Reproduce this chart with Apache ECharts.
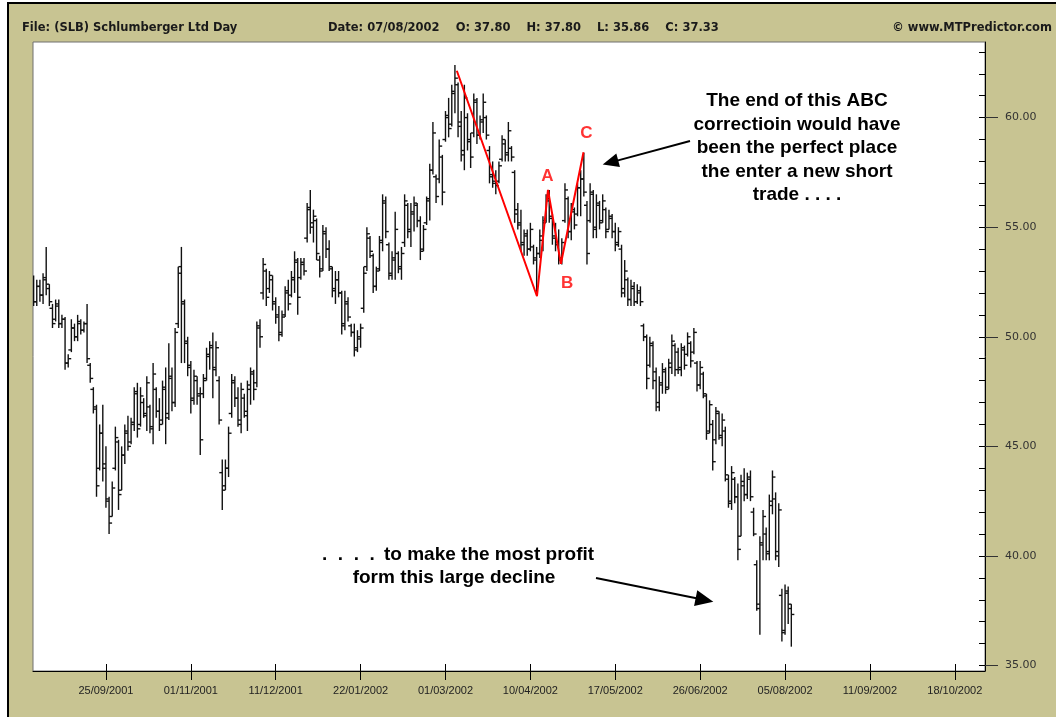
<!DOCTYPE html>
<html><head><meta charset="utf-8">
<script src="https://cdn.jsdelivr.net/npm/echarts@6/dist/echarts.min.js"></script>
<style>html,body{margin:0;padding:0;background:#fff}#c{width:1056px;height:717px}</style>
</head><body><div id="c"></div>
<script>
// Daily OHLC bars, SLB, one per trading day (bar index 0 = first bar shown)
const openP = [
52.5,51.6,52.3,51.9,52.6,52.2,51.3,50.8,51.4,50.6, 50.8,48.8,49.4,50.4,50.0,50.6,50.3,50.6,48.7,47.6,
46.7,44.0,45.6,44.2,42.5,41.8,44.0,45.2,43.0,44.6, 45.6,45.2,46.0,47.5,46.0,47.0,46.4,46.8,45.8,47.6,
46.6,46.2,47.6,46.5,48.2,47.0,50.6,53.2,51.5,49.7, 48.7,47.2,48.0,47.4,47.4,48.1,49.1,49.6,48.5,48.0,
43.8,43.2,44.0,46.5,47.9,47.2,46.0,47.2,46.4,47.6, 48.3,47.9,50.4,52.0,53.0,52.2,52.6,51.6,51.0,50.2,
51.0,52.1,51.9,52.6,53.4,52.7,53.3,54.5,55.9,55.2, 55.3,53.5,53.1,54.7,54.0,53.1,52.2,52.6,52.0,50.6,
51.5,50.5,50.2,49.5,49.9,51.3,53.2,54.5,53.7,52.3, 53.1,54.3,56.1,54.2,52.8,53.5,53.8,53.1,54.3,56.0,
54.8,55.6,56.0,55.3,54.0,55.2,56.3,57.6,57.3,57.2, 58.2,59.0,60.0,59.7,61.1,61.5,59.8,58.3,60.0,59.0,
59.3,60.7,59.2,59.8,60.0,58.5,57.4,57.1,57.1,58.1, 58.8,58.4,58.6,57.5,55.8,55.2,54.2,54.7,54.0,54.1,
53.6,53.8,54.4,55.3,56.3,55.4,54.6,54.2,53.5,55.3, 56.3,54.8,55.7,55.6,56.8,57.2,56.0,55.3,56.5,55.0,
56.0,55.3,55.8,54.9,55.4,54.8,54.3,54.0,52.2,52.6, 51.7,52.3,51.6,52.0,50.5,50.0,48.7,49.6,48.4,46.8,
47.8,48.4,47.7,48.6,49.6,49.3,48.5,49.4,49.2,49.7, 49.3,48.8,47.8,48.3,47.3,45.7,46.0,45.3,46.5,45.4,
45.7,43.5,42.4,43.5,42.7,40.9,43.2,42.8,43.6,42.0, 39.6,37.6,40.5,41.0,40.2,42.3,42.6,40.0,38.2,36.6,
38.4,37.80];
const highP = [
52.8,52.6,52.6,52.9,54.1,52.4,51.5,51.7,51.7,51.0, 50.9,49.2,50.8,50.6,51.0,50.8,50.7,51.5,48.8,47.7,
46.9,46.0,46.9,45.0,42.7,43.4,45.9,45.3,45.0,46.0, 46.4,46.3,47.7,47.9,47.7,47.2,48.2,46.9,48.8,47.7,
47.2,48.0,48.6,49.7,48.6,50.4,53.2,54.1,51.7,50.0, 48.9,48.5,48.2,47.7,48.3,49.5,49.8,50.2,49.8,48.2,
44.4,44.4,45.9,48.3,48.2,47.7,47.9,47.4,48.0,48.6, 48.5,50.7,50.8,53.6,53.1,53.0,52.8,51.8,51.4,51.2,
52.3,52.6,53.0,53.9,53.6,53.6,53.6,56.1,56.7,55.8, 55.4,53.7,55.1,55.0,54.4,53.2,53.0,53.0,52.1,52.1,
51.8,50.6,50.6,50.3,50.6,53.2,55.0,54.6,53.8,53.2, 54.6,56.5,56.4,54.3,53.9,55.7,53.9,54.1,56.5,56.1,
56.1,56.4,56.1,55.5,55.1,56.4,57.9,59.8,57.4,59.0, 58.3,60.3,60.9,61.5,62.4,61.6,60.3,61.5,60.2,59.3,
61.1,60.9,60.1,61.1,60.1,58.7,58.0,57.6,58.0,59.2, 59.0,59.8,58.7,57.6,56.1,55.8,54.9,54.9,55.2,54.2,
54.1,54.9,55.5,56.5,56.7,55.6,55.2,54.9,54.5,57.0, 56.4,56.1,55.9,57.0,57.6,58.4,56.2,57.0,56.7,56.5,
56.2,56.5,55.9,55.8,55.6,55.2,55.0,54.2,53.5,52.7, 52.6,52.5,52.4,52.3,50.6,50.1,50.0,49.8,48.6,48.2,
48.8,48.6,49.0,50.1,49.7,49.5,49.7,49.6,50.2,49.8, 50.4,48.9,48.9,48.4,47.4,47.1,46.2,46.8,46.6,46.5,
45.9,43.7,44.1,43.6,43.3,43.7,44.0,43.8,43.9,42.2, 39.8,40.9,42.1,41.3,42.8,43.9,42.9,42.4,38.5,38.7,
38.6,37.80];
const lowP = [
51.4,51.4,51.6,51.5,51.9,51.4,50.4,50.7,50.4,50.4, 48.5,48.6,49.3,49.8,49.8,50.1,50.2,48.8,47.9,46.5,
42.7,43.9,43.4,42.2,41.0,41.8,43.9,42.1,43.0,44.2, 44.8,45.1,45.7,45.4,45.9,46.3,45.7,45.6,45.1,46.3,
45.7,46.0,45.1,46.2,46.6,46.8,50.4,48.8,48.8,48.2, 46.5,46.9,46.9,44.6,47.2,48.0,48.5,47.2,48.2,46.0,
42.1,43.0,43.6,46.3,46.8,45.9,45.6,46.3,45.7,46.9, 47.1,47.7,49.5,51.7,51.4,52.0,51.2,50.6,49.8,50.0,
50.9,51.2,51.8,52.0,51.0,52.6,52.8,54.3,54.7,54.3, 53.5,52.7,53.0,53.6,53.0,51.8,51.5,51.8,50.1,50.3,
50.7,50.0,49.1,49.3,49.5,51.1,53.0,53.6,52.0,52.1, 53.0,53.9,54.5,52.6,52.6,52.6,52.9,52.6,54.1,54.5,
54.1,54.8,55.0,53.5,53.9,55.1,55.3,57.4,56.1,57.0, 56.0,58.9,59.1,59.6,60.2,59.1,58.0,57.6,58.5,57.7,
59.1,58.8,59.0,59.3,59.0,57.0,56.8,56.5,57.0,58.0, 58.0,58.0,58.0,55.2,54.9,53.9,53.7,53.7,53.9,53.3,
51.9,53.6,53.9,55.2,55.2,54.2,53.9,53.3,53.3,55.2, 54.5,54.4,54.9,55.5,55.5,56.4,53.3,55.2,54.5,54.5,
54.9,55.2,54.5,54.9,54.5,53.9,54.1,51.8,51.8,51.4, 51.4,51.4,51.5,51.4,49.8,47.6,48.6,47.6,46.6,46.6,
47.4,47.4,47.6,48.3,48.2,48.3,48.2,48.5,49.1,48.6, 49.2,47.5,47.6,47.2,45.3,45.6,43.9,45.1,45.3,45.0,
43.4,42.2,42.1,42.4,39.8,40.9,42.5,42.6,42.5,40.9, 37.5,36.4,39.8,39.8,39.8,41.9,39.8,39.5,36.1,36.4,
36.9,35.86];
const closeP = [
51.6,52.3,51.9,52.7,52.4,51.6,50.6,51.5,50.6,50.8, 48.8,49.0,50.4,50.0,50.7,50.3,50.6,49.0,48.1,46.8,
43.2,45.6,44.0,42.6,41.5,43.1,45.4,42.8,44.6,45.7, 45.0,46.1,47.4,45.8,47.3,46.5,47.9,45.9,48.3,46.6,
46.0,47.7,46.3,48.1,47.0,50.2,52.9,51.6,49.8,48.6, 47.1,48.2,47.3,45.3,48.0,49.2,49.5,48.6,49.5,46.2,
43.0,44.0,45.6,48.0,47.2,46.2,47.6,46.6,47.8,48.4, 47.6,50.5,50.0,53.3,51.8,52.8,51.5,50.9,50.1,50.9,
52.0,51.5,52.7,53.5,51.8,53.4,53.0,55.8,55.0,55.5, 53.8,53.0,54.8,54.0,53.2,52.1,52.6,52.0,50.5,51.6,
50.9,50.2,49.4,50.0,50.4,52.9,54.7,53.9,52.3,53.0, 54.4,56.2,54.8,52.9,53.6,54.9,53.2,53.8,56.2,54.9,
55.7,56.1,55.3,53.9,54.9,56.2,57.6,59.3,56.4,58.7, 56.6,60.1,59.5,61.2,61.8,59.6,58.5,60.9,58.9,58.2,
60.8,59.2,59.9,60.7,59.2,57.3,57.0,56.9,57.8,59.0, 58.3,59.4,58.2,55.6,55.1,54.3,54.6,54.0,54.9,53.5,
53.8,54.6,55.2,56.2,55.5,54.5,54.3,53.6,54.3,56.7, 54.8,55.8,55.1,56.8,57.2,56.6,53.8,56.6,54.9,56.1,
55.2,56.2,54.8,55.5,54.8,54.2,54.8,52.0,53.0,51.7, 52.2,51.6,52.1,51.6,50.0,48.1,49.7,48.0,47.0,47.9,
48.5,47.6,48.8,49.8,48.5,48.6,49.5,48.7,50.0,48.9, 50.2,47.8,48.6,47.4,45.6,46.9,44.3,46.6,45.5,46.2,
43.7,42.5,43.8,42.7,40.3,43.4,42.8,43.5,42.7,41.0, 37.8,40.6,41.8,40.1,42.5,43.6,40.2,42.1,36.5,38.3,
37.6,37.33];

// x-axis date ticks (bar index of each labelled date) and their labels
const tickIdx = [23,50,77,104,131,158,185,212,239,266,293];
const tickLabels = ['25/09/2001','01/11/2001','11/12/2001','22/01/2002','01/03/2002','10/04/2002',
                    '17/05/2002','26/06/2002','05/08/2002','11/09/2002','18/10/2002'];
// y-axis labelled prices and minor tick prices
const yMajor = [35,40,45,50,55,60];
const yMinor = [35,36,37,38,39,40,41,42,43,44,45,46,47,48,49,50,51,52,53,54,55,56,57,58,59,60,61,62,63];

// ABC correction drawn in red (bar index, price)
const abcIdx   = [134.6, 160.1, 163.6, 167.7, 174.9];
const abcPrice = [62.14, 51.85, 56.70, 53.33, 58.42];
const abcLabels = ['A','B','C'];
const abcLabelIdx = [163.4, 169.7, 175.8];
const abcLabelPrice = [57.3, 52.45, 59.3];

const ohlc = openP.map((o,i)=>[i,o,highP[i],lowP[i],closeP[i]]);
const abcLine = abcIdx.map((x,i)=>[x,abcPrice[i]]);
const abcPts = abcLabels.map((t,i)=>({name:t,value:[abcLabelIdx[i],abcLabelPrice[i]]}));

const XMIN=-0.2, XMAX=302.6, YMIN=34.75, YMAX=63.45;
const ink='#000';
const chart = echarts.init(document.getElementById('c'),null,{renderer:'canvas'});

function arrow(tx,ty,hx,hy,len,half){
  const dx=hx-tx, dy=hy-ty, L=Math.hypot(dx,dy), ux=dx/L, uy=dy/L;
  const bx=hx-ux*len, by=hy-uy*len, nx=-uy, ny=ux;
  return [
    {type:'line',shape:{x1:tx,y1:ty,x2:bx+ux*2,y2:by+uy*2},style:{stroke:ink,lineWidth:2}},
    {type:'polygon',shape:{points:[[hx,hy],[bx+nx*half,by+ny*half],[bx-nx*half,by-ny*half]]},style:{fill:ink}}
  ];
}
const hdrFont = 'bold 11.5px "DejaVu Sans", Verdana, sans-serif';
const noteFont = 'bold 19px "Liberation Sans", Arial, sans-serif';
const noteLines = ['The end of this ABC','correctioin would have','been the perfect place','the enter a new short','trade . . . .'];

const graphics = [
  {type:'rect',shape:{x:0,y:0,width:7,height:717},style:{fill:'#fff'}},
  {type:'rect',shape:{x:0,y:0,width:1056,height:2},style:{fill:'#fff'}},
  {type:'rect',shape:{x:7,y:2,width:2,height:715},style:{fill:'#000'}},
  {type:'rect',shape:{x:7,y:2,width:1049,height:2},style:{fill:'#000'}},
  {type:'text',x:22,y:28,style:{text:'File: (SLB) Schlumberger Ltd Day',font:hdrFont,fill:'#1a1a1a',textVerticalAlign:'middle'}},
  {type:'text',x:328,y:28,style:{text:'Date: 07/08/2002    O: 37.80    H: 37.80    L: 35.86    C: 37.33',font:hdrFont,fill:'#1a1a1a',textVerticalAlign:'middle'}},
  {type:'text',x:1052,y:28,style:{text:'\u00A9 www.MTPredictor.com',font:hdrFont,fill:'#1a1a1a',textAlign:'right',textVerticalAlign:'middle'}},
];
noteLines.forEach((t,i)=>graphics.push({type:'text',x:797,y:101+i*23.5,z:10,style:{text:t,font:noteFont,fill:'#000',textAlign:'center',textVerticalAlign:'middle'}}));
graphics.push({type:'text',x:322,y:555,z:10,style:{text:'.  .  .  .',font:noteFont,fill:'#000',textVerticalAlign:'middle'}});
graphics.push({type:'text',x:384,y:555,z:10,style:{text:'to make the most profit',font:noteFont,fill:'#000',textVerticalAlign:'middle'}});
graphics.push({type:'text',x:454,y:578,z:10,style:{text:'form this large decline',font:noteFont,fill:'#000',textAlign:'center',textVerticalAlign:'middle'}});
arrow(690,141,602.7,164.5,16,7).forEach(g=>{g.z=10;graphics.push(g);});
arrow(596,578,713.3,601.7,18,8).forEach(g=>{g.z=10;graphics.push(g);});

const option = {
  animation:false,
  backgroundColor:'#c8c492',
  grid:{left:33,right:71,top:42,bottom:46,show:true,backgroundColor:'#ffffff',borderColor:'#707070',borderWidth:1},
  xAxis:[
    {type:'value',min:XMIN,max:XMAX,position:'bottom',
     axisLine:{show:true,onZero:false,lineStyle:{color:'#000',width:1}},
     axisTick:{show:true,customValues:tickIdx,length:9,inside:false,lineStyle:{color:'#000'}},
     axisLabel:{show:true,customValues:tickIdx,margin:14,fontSize:11,color:'#222',
       fontFamily:'"Liberation Sans Narrow","Liberation Sans",Arial,sans-serif',
       formatter:v=>{const k=tickIdx.indexOf(Math.round(v));return k>=0?tickLabels[k]:'';}},
     splitLine:{show:false}},
    {type:'value',min:XMIN,max:XMAX,position:'bottom',
     axisLine:{show:false,onZero:false},
     axisTick:{show:true,customValues:tickIdx,length:7,inside:true,lineStyle:{color:'#000'}},
     axisLabel:{show:false},splitLine:{show:false}}
  ],
  yAxis:[
    {type:'value',min:YMIN,max:YMAX,position:'right',
     axisLine:{show:true,onZero:false,lineStyle:{color:'#000',width:1}},
     axisTick:{show:true,customValues:yMajor,length:13,inside:false,lineStyle:{color:'#333'}},
     axisLabel:{show:true,customValues:yMajor,margin:20,fontSize:11,color:'#333',
       fontFamily:'"DejaVu Sans",Verdana,sans-serif',formatter:v=>v.toFixed(2)},
     splitLine:{show:false}},
    {type:'value',min:YMIN,max:YMAX,position:'right',
     axisLine:{show:false,onZero:false},
     axisTick:{show:true,customValues:yMinor,length:6,inside:true,lineStyle:{color:'#000'}},
     axisLabel:{show:false},splitLine:{show:false}}
  ],
  series:[
    {type:'custom',xAxisIndex:0,yAxisIndex:0,data:ohlc,clip:true,
     encode:{x:0,y:[1,2,3,4]},
     renderItem:function(params,api){
       const i=api.value(0);
       const h=api.coord([i,api.value(2)]), l=api.coord([i,api.value(3)]);
       const o=api.coord([i,api.value(1)]), c=api.coord([i,api.value(4)]);
       const x=h[0];
       const st={stroke:'#111',lineWidth:1.4};
       return {type:'group',children:[
         {type:'line',shape:{x1:x,y1:h[1],x2:x,y2:l[1]},style:st},
         {type:'line',shape:{x1:x-3,y1:o[1],x2:x,y2:o[1]},style:st},
         {type:'line',shape:{x1:x,y1:c[1],x2:x+3,y2:c[1]},style:st}
       ]};
     }},
    {type:'line',xAxisIndex:0,yAxisIndex:0,data:abcLine,symbol:'none',z:5,
     lineStyle:{color:'#ff0000',width:2},silent:true},
    {type:'scatter',xAxisIndex:0,yAxisIndex:0,data:abcPts,symbolSize:0,z:6,
     label:{show:true,position:'inside',formatter:'{b}',color:'#ff0000',fontSize:17,fontWeight:'bold',
       fontFamily:'"Liberation Sans",Arial,sans-serif'}}
  ],
  graphic:graphics
};
chart.setOption(option);
</script></body></html>
